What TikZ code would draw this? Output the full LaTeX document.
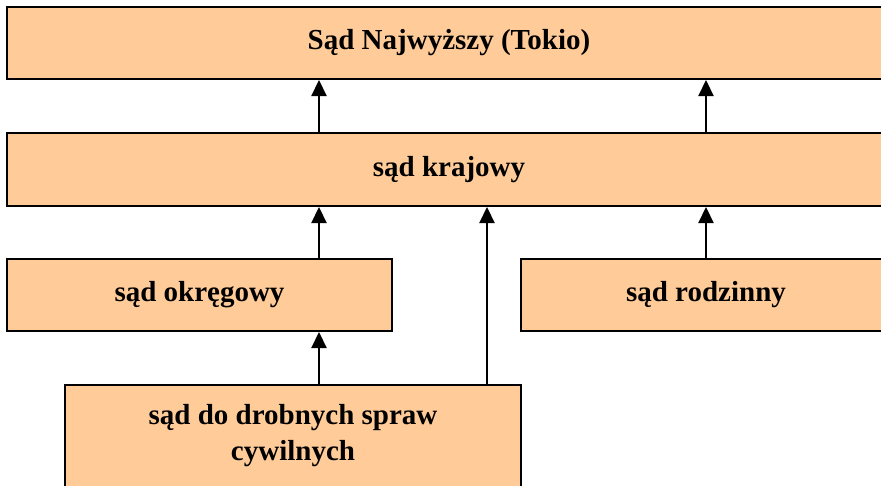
\documentclass[tikz,border=0pt]{standalone}
\usepackage{fontspec}
\setmainfont{Liberation Serif}
\usetikzlibrary{arrows.meta}
\definecolor{peach}{HTML}{FFCC99}

\begin{document}
\begin{tikzpicture}[
            x=1pt, y=-1pt,
            box/.style={draw=black, fill=peach, line width=2pt, inner sep=0pt,
                font=\fontsize{29}{36}\selectfont\bfseries},
            arr/.style={-{Triangle[length=16pt, width=15pt]}, line width=2.2pt},
        ]
            \useasboundingbox (0, 0) rectangle (881, 485);
            \clip (0, 0) rectangle (881, 485);
            \node[box, minimum width=884, minimum height=72] (najw) at (449, 43) {Sąd Najwyższy (Tokio)};
            \node[box, minimum width=884, minimum height=73] (kraj) at (449, 169.5) {sąd krajowy};
            \node[box, minimum width=385, minimum height=72] (okr) at (199.5, 295) {sąd okręgowy};
            \node[box, minimum width=370, minimum height=72] (rodz) at (706, 295) {sąd rodzinny};
            \node[box, minimum width=456, minimum height=110] (drob) at (293, 440) {};
            \node[font=\fontsize{29}{36}\selectfont\bfseries, align=center] (drobtxt) at (293, 436) {sąd do drobnych spraw\\cywilnych};
            \draw[arr] (kraj.north -| 319, 0) -- (najw.south -| 319, 0);
            \draw[arr] (kraj.north -| 706, 0) -- (najw.south -| 706, 0);
            \draw[arr] (okr.north -| 319, 0) -- (kraj.south -| 319, 0);
            \draw[arr] (drob.north -| 487, 0) -- (kraj.south -| 487, 0);
            \draw[arr] (rodz.north -| 706, 0) -- (kraj.south -| 706, 0);
            \draw[arr] (drob.north -| 319, 0) -- (okr.south -| 319, 0);
        \end{tikzpicture}
\end{document}
